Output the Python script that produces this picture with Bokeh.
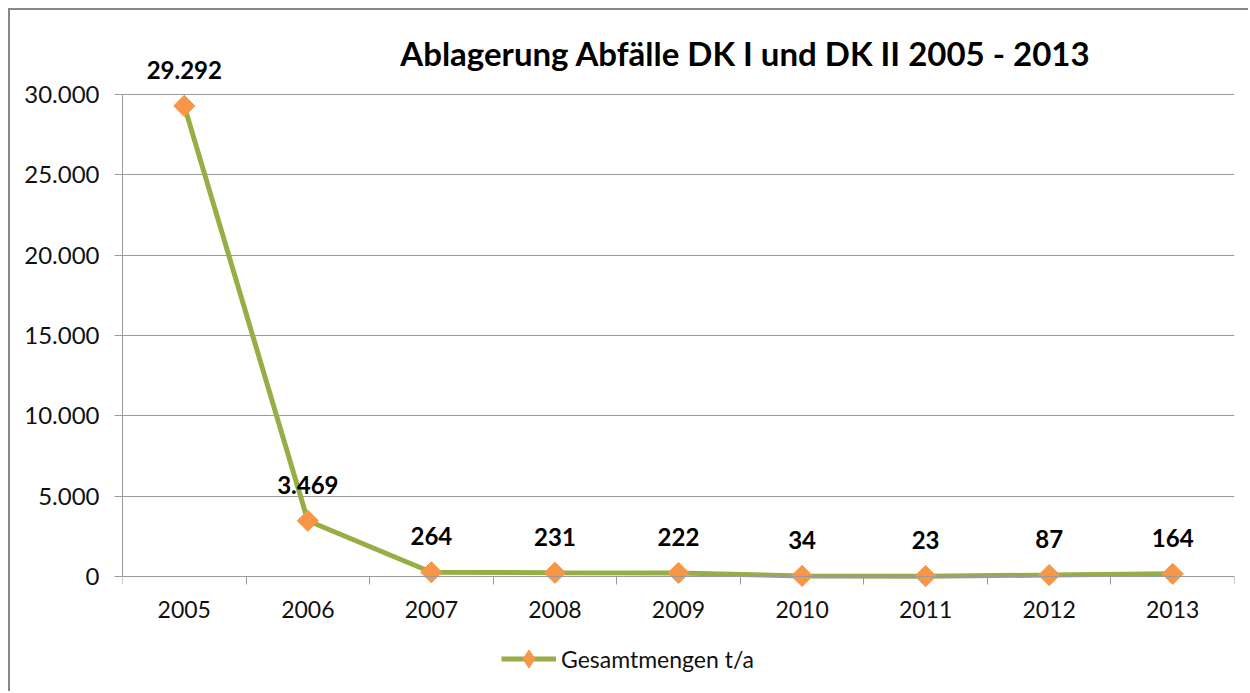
from bokeh.plotting import figure
from bokeh.models import (Range1d, FixedTicker, ColumnDataSource, LabelSet, Label,
                          Legend, LegendItem)
from bokeh.core.properties import value
from bokeh.embed import file_html
from bokeh.resources import INLINE

years = ["2005", "2006", "2007", "2008", "2009", "2010", "2011", "2012", "2013"]
values = [29292, 3469, 264, 231, 222, 34, 23, 87, 164]
y_ticks = [0, 5000, 10000, 15000, 20000, 25000, 30000]
y_tick_labels = ["0", "5.000", "10.000", "15.000", "20.000", "25.000", "30.000"]
title_text = "Ablagerung Abfälle DK I und DK II 2005 - 2013"
series_name = "Gesamtmengen t/a"

LINE = "#97AE47"
MARK = "#F79646"
GRID = "#9A9A9A"
FONT = "Lato"

xs = [i + 0.5 for i in range(len(years))]
labels = [f"{v:,}".replace(",", ".") for v in values]
src = ColumnDataSource(dict(x=xs, y=values, lab=labels))

# page geometry (px): frame spans the whole canvas height; axis 0 at page y 576,
# 30000 at page y 94; canvas top at page y 10, bottom at 693
Y_MAX = y_ticks[-1]
k = Y_MAX / (576 - 94)
y_top = Y_MAX + (94 - 10) * k
y_bot = -(693 - 576) * k

p = figure(width=1240, height=683, output_backend="svg", toolbar_location=None,
           title=None,
           x_range=Range1d(0, len(years)), y_range=Range1d(y_bot, y_top),
           min_border_left=112, min_border_right=16, min_border_top=0,
           min_border_bottom=0)
p.styles = {"margin-left": "8px", "margin-top": "8px",
            "border-top": "2px solid #868686", "border-left": "2px solid #868686"}
p.outline_line_color = None
p.background_fill_color = "white"
p.border_fill_color = "white"

# x axis (drawn at y = 0)
p.xaxis.fixed_location = 0
p.xaxis.bounds = (0, len(years))
p.xaxis.ticker = FixedTicker(ticks=xs, minor_ticks=list(range(len(years) + 1)))
p.xaxis.major_label_overrides = {x: y for x, y in zip(xs, years)}
p.xaxis.major_tick_line_color = None
p.xaxis.major_tick_out = 8
p.xaxis.major_tick_in = 0
p.xaxis.minor_tick_line_color = GRID
p.xaxis.minor_tick_out = 8
p.xaxis.minor_tick_in = 0
p.xaxis.axis_line_color = GRID
p.xaxis.major_label_text_font = FONT
p.xaxis.major_label_text_font_size = "23px"
p.xaxis.major_label_text_color = "#111111"
p.xaxis.major_label_standoff = 16
p.xgrid.grid_line_color = None

# y axis
p.yaxis.bounds = (0, Y_MAX)
p.yaxis.ticker = FixedTicker(ticks=y_ticks)
p.yaxis.major_label_overrides = {t: l for t, l in zip(y_ticks, y_tick_labels)}
p.yaxis.major_tick_line_color = GRID
p.yaxis.major_tick_out = 8
p.yaxis.major_tick_in = 0
p.yaxis.minor_tick_line_color = None
p.yaxis.axis_line_color = GRID
p.yaxis.major_label_text_font = FONT
p.yaxis.major_label_text_font_size = "24px"
p.yaxis.major_label_text_color = "#111111"
p.yaxis.major_label_standoff = 15
p.ygrid.grid_line_color = GRID
p.ygrid.ticker = FixedTicker(ticks=y_ticks)

ln = p.line("x", "y", source=src, line_color=LINE, line_width=5)
# diamond used for the legend swatch; fully covered by the rotated squares below
leg_mk = p.scatter("x", "y", source=src, marker="diamond", size=12,
                   fill_color=MARK, line_color=MARK)
mk = p.scatter("x", "y", source=src, marker="square", angle=0.7854, size=15,
               fill_color=MARK, line_color=MARK)

p.add_layout(LabelSet(x="x", y="y", text="lab", source=src, y_offset=36,
                      text_align="center", text_baseline="middle",
                      text_font=value(FONT), text_font_style="bold",
                      text_font_size="24px", text_color="black"))

p.add_layout(Label(x=623, y=641, x_units="screen", y_units="screen",
                   text=title_text, text_align="center", text_baseline="middle",
                   text_font=FONT, text_font_style="bold", text_font_size="33px",
                   text_color="black"))

legend = Legend(items=[LegendItem(label=series_name, renderers=[ln, leg_mk])],
                location=(379, 12), orientation="horizontal",
                label_text_font=FONT, label_text_font_size="23px",
                label_text_color="#111111", glyph_width=55, glyph_height=45,
                label_height=45, padding=0, margin=0, border_line_color=None,
                background_fill_alpha=0)
p.add_layout(legend, "center")

open("out.html", "w").write(file_html(p, INLINE))
